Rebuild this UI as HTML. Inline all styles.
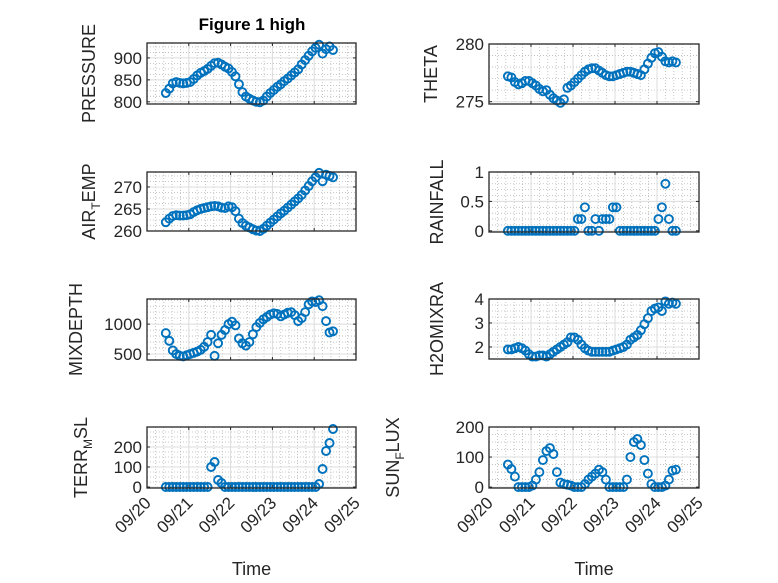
<!DOCTYPE html>
<html><head><meta charset="utf-8"><style>
body{margin:0;background:#fff}
svg{display:block;font-family:"Liberation Sans",sans-serif}
</style></head><body>
<svg id="fig" width="778" height="583" viewBox="0 0 778 583" xmlns="http://www.w3.org/2000/svg">
<rect width="778" height="583" fill="#fff"/>
<text x="252" y="30" text-anchor="middle" font-size="17" font-weight="bold" fill="#000">Figure 1 high</text>
</svg>
<script>
const times = [];
for (let i = 0; i < 49; i++) times.push(0.45 + i / 12);
const xTickLabels = ['09/20','09/21','09/22','09/23','09/24','09/25'];
const pressure = [820,830,842,845,843,842,843,845,852,860,866,870,875,882,888,889,885,880,876,868,858,840,822,812,807,803,800,799,803,812,820,827,834,840,847,853,860,867,874,885,895,905,915,923,930,910,920,926,918];
const theta = [277.2,277.1,276.7,276.5,276.6,276.8,276.8,276.6,276.4,276.1,275.9,276,275.6,275.3,275.1,274.9,275.2,276.2,276.4,276.7,277,277.3,277.6,277.8,277.9,277.9,277.7,277.5,277.3,277.2,277.2,277.3,277.4,277.5,277.6,277.6,277.5,277.4,277.3,277.8,278.3,278.8,279.2,279.3,278.9,278.5,278.4,278.5,278.4];
const airTemp = [262,262.8,263.4,263.6,263.5,263.5,263.6,263.8,264.3,264.7,265,265.2,265.4,265.6,265.7,265.6,265.3,265.2,265.6,265.4,264.5,262.8,261.8,261.2,260.8,260.4,260.1,260,260.5,261.2,261.9,262.6,263.3,264,264.6,265.3,266,266.7,267.4,268.2,269.2,270.2,271.3,272.2,273.2,271.3,272.8,272.5,272.2];
const rainfall = [0,0,0,0,0,0,0,0,0,0,0,0,0,0,0,0,0,0,0,0,0.2,0.2,0.4,0,0,0.2,0,0.2,0.2,0.2,0.4,0.4,0,0,0,0,0,0,0,0,0,0,0,0.2,0.4,0.8,0.2,0,0];
const mixDepth = [850,720,560,500,470,460,480,500,520,540,570,620,700,820,470,680,820,900,1000,1040,980,760,680,640,700,830,950,1020,1080,1120,1160,1180,1170,1130,1160,1190,1200,1150,1050,1100,1200,1330,1380,1370,1400,1300,1050,860,880];
const h2oMix = [1.9,1.9,1.95,2.0,1.95,1.85,1.7,1.6,1.6,1.65,1.65,1.6,1.7,1.8,1.9,2.0,2.1,2.2,2.4,2.4,2.3,2.1,1.95,1.85,1.8,1.8,1.8,1.8,1.8,1.8,1.85,1.9,1.95,2.0,2.1,2.3,2.4,2.5,2.7,2.95,3.2,3.5,3.6,3.65,3.5,3.9,3.8,3.85,3.8];
const terrMsl = [0,0,0,0,0,0,0,0,0,0,0,0,0,100,125,35,20,0,0,0,0,0,0,0,0,0,0,0,0,0,0,0,0,0,0,0,0,0,0,0,0,0,0,0,15,90,180,220,290];
const sunFlux = [75,60,35,0,0,0,0,5,25,50,90,120,130,110,50,15,10,8,5,0,0,0,10,25,35,45,58,50,25,0,0,0,0,0,25,100,150,160,140,90,45,10,0,0,0,5,25,55,58];
const pressureTicks = [800,850,900];
const thetaTicks = [275,280];
const airTicks = [260,265,270];
const rainTicks = [0,0.5,1];
const rainTickLabels = ['0','0.5','1'];
const mixTicks = [500,1000];
const h2oTicks = [2,3,4];
const terrTicks = [0,100,200];
const sunTicks = [0,100,200];

const NS = 'http://www.w3.org/2000/svg';
const svg = document.getElementById('fig');
function mk(tag, attrs, parent) {
  const e = document.createElementNS(NS, tag);
  for (const k in attrs) e.setAttribute(k, attrs[k]);
  (parent || svg).appendChild(e);
  return e;
}
const panels = [
  {name:'pressure', data:pressure, x0:147, x1:356, y0:43, y1:104, ymin:795, ymax:934, ticks:pressureTicks, minor:12.5, label:['PRESSURE'], lx:95, showX:false},
  {name:'theta', data:theta, x0:489, x1:699, y0:44, y1:104, ymin:274.8, ymax:280, ticks:thetaTicks, minor:1, label:['THETA'], lx:437, showX:false},
  {name:'air-temp', data:airTemp, x0:147, x1:356, y0:172, y1:231, ymin:260, ymax:273.4, ticks:airTicks, minor:1.25, label:['AIR','T','EMP'], lx:95, showX:false},
  {name:'rainfall', data:rainfall, x0:489, x1:699, y0:172, y1:232, ymin:-0.02, ymax:1, ticks:rainTicks, tl:rainTickLabels, minor:0.1, label:['RAINFALL'], lx:443, showX:false},
  {name:'mixdepth', data:mixDepth, x0:147, x1:356, y0:299, y1:360, ymin:400, ymax:1420, ticks:mixTicks, minor:100, label:['MIXDEPTH'], lx:82, showX:false},
  {name:'h2o-mix', data:h2oMix, x0:489, x1:699, y0:299, y1:359, ymin:1.5, ymax:4, ticks:h2oTicks, minor:0.25, label:['H2OMIXRA'], lx:443, showX:false},
  {name:'terr-msl', data:terrMsl, x0:147, x1:356, y0:427, y1:488, ymin:-5, ymax:300, ticks:terrTicks, minor:25, label:['TERR','M','SL'], lx:87, showX:true},
  {name:'sun-flux', data:sunFlux, x0:489, x1:699, y0:427, y1:488, ymin:-3, ymax:200, ticks:sunTicks, minor:25, label:['SUN','F','LUX'], lx:399, showX:true}
];
panels.forEach(p => {
  const g = mk('g', {});
  
  
  const sx = d => p.x0 + (d / 5) * (p.x1 - p.x0);
  const sy = v => p.y1 - (v - p.ymin) / (p.ymax - p.ymin) * (p.y1 - p.y0);
  for (let d = 0; d <= 5.001; d += 0.2) {
    if (Math.abs(d - Math.round(d)) < 1e-6) continue;
    mk('line', {x1:sx(d), x2:sx(d), y1:p.y0, y2:p.y1, stroke:'#b8b8b8', 'stroke-width':0.8, 'stroke-dasharray':'1,2'}, g);
  }
  const start = Math.ceil(p.ymin / p.minor) * p.minor;
  for (let v = start; v <= p.ymax + 1e-9; v += p.minor) {
    if (p.ticks.some(t => Math.abs(t - v) < 1e-9)) continue;
    mk('line', {x1:p.x0, x2:p.x1, y1:sy(v), y2:sy(v), stroke:'#b8b8b8', 'stroke-width':0.8, 'stroke-dasharray':'1,2'}, g);
  }
  for (let d = 1; d < 5; d++) mk('line', {x1:sx(d), x2:sx(d), y1:p.y0, y2:p.y1, stroke:'#dcdcdc', 'stroke-width':1}, g);
  p.ticks.forEach((t, i) => {
    const y = sy(t);
    mk('line', {x1:p.x0, x2:p.x1, y1:y, y2:y, stroke:'#dcdcdc', 'stroke-width':1}, g);
    mk('line', {x1:p.x0, x2:p.x0 + 3, y1:y, y2:y, stroke:'#262626', 'stroke-width':1}, g);
    mk('line', {x1:p.x1, x2:p.x1 - 3, y1:y, y2:y, stroke:'#262626', 'stroke-width':1}, g);
    const tx = mk('text', {x:p.x0 - 5, y:y + 6, 'text-anchor':'end', 'font-size':17, fill:'#262626'}, g);
    
    
    tx.textContent = p.tl ? p.tl[i] : String(t);
  });
  for (let d = 0; d <= 5; d++) {
    mk('line', {x1:sx(d), x2:sx(d), y1:p.y1, y2:p.y1 - 3, stroke:'#262626', 'stroke-width':1}, g);
    mk('line', {x1:sx(d), x2:sx(d), y1:p.y0, y2:p.y0 + 3, stroke:'#262626', 'stroke-width':1}, g);
    if (p.showX) {
      const ax = sx(d) + 5, ay = p.y1 + 16;
      const tx = mk('text', {x:ax, y:ay, 'text-anchor':'end', 'font-size':17, fill:'#262626', transform:'rotate(-45 ' + ax + ' ' + ay + ')'}, g);
      
      
      tx.textContent = xTickLabels[d];
    }
  }
  p.data.forEach((v, i) => {
    const c = mk('circle', {cx:sx(times[i]), cy:sy(v), r:4, fill:'none', stroke:'#0072BD', 'stroke-width':1.9}, g);
    
    
  });
  const box = mk('rect', {x:p.x0, y:p.y0, width:p.x1 - p.x0, height:p.y1 - p.y0, fill:'none', stroke:'#262626', 'stroke-width':1.3}, g);
  
  
  const cy = (p.y0 + p.y1) / 2;
  const lab = mk('text', {x:p.lx, y:cy, 'text-anchor':'middle', 'font-size':18, fill:'#262626', transform:'rotate(-90 ' + p.lx + ' ' + cy + ')'}, g);
  
  
  if (p.label.length === 1) lab.textContent = p.label[0];
  else {
    const a = mk('tspan', {}, lab); a.textContent = p.label[0];
    const b = mk('tspan', {'font-size':12, dy:5}, lab); b.textContent = p.label[1];
    const c = mk('tspan', {dy:-5}, lab); c.textContent = p.label[2];
  }
  if (p.showX) {
    const t = mk('text', {x:(p.x0 + p.x1) / 2, y:575, 'text-anchor':'middle', 'font-size':18, fill:'#262626'}, g);
    
    
    t.textContent = 'Time';
  }
});
</script>
</body></html>
